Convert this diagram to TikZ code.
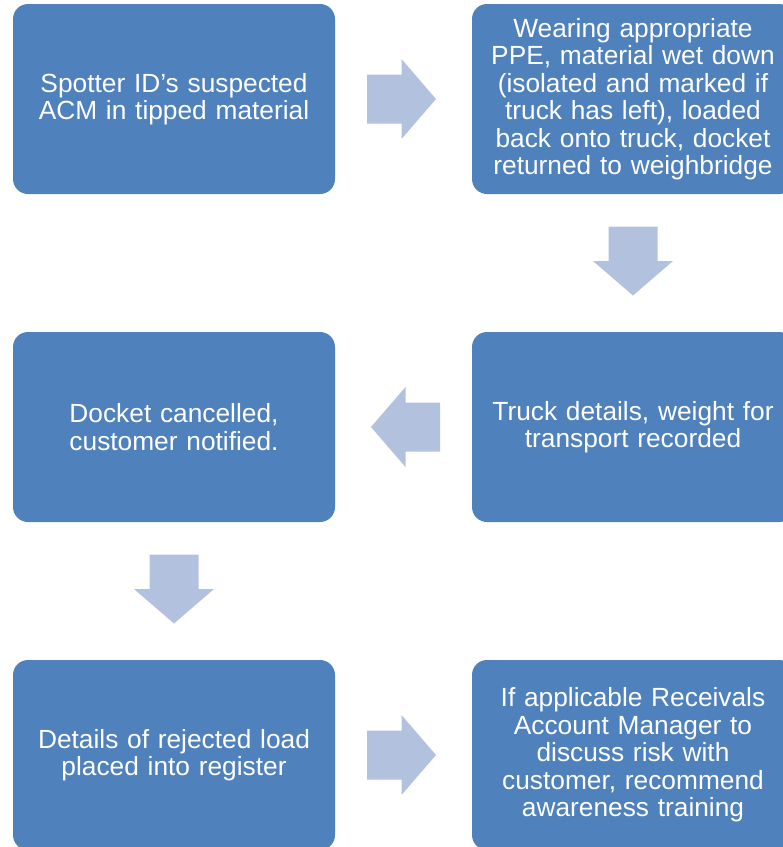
\documentclass[tikz,border=0pt]{standalone}
\usepackage{fontspec}
\setmainfont{Liberation Sans}
\usepackage{xcolor}
\usepackage{tikz}
\usetikzlibrary{positioning,calc}

\definecolor{boxblue}{HTML}{4F81BD}
\definecolor{arrowblue}{HTML}{B2C1DD}

\begin{document}
\begin{tikzpicture}[x=1pt, y=-1pt,
	step box/.style={rectangle, rounded corners=15pt, fill=boxblue, minimum width=322pt, minimum height=190pt, text width=318pt, align=center, text=white, inner sep=0pt, font=\fontsize{26.3pt}{27.5pt}\selectfont},
	fat arrow/.pic={\fill[arrowblue] (-34.5,-24.5) -- (0,-24.5) -- (0,-40) -- (34.5,0) -- (0,40) -- (0,24.5) -- (-34.5,24.5) -- cycle;}]
						\useasboundingbox (0,0) rectangle (783,847);
						\clip (0,0) rectangle (783,847);
						\node[step box] (spot) at (174,99) {Spotter ID’s suspected\\ACM in tipped material};
						\node[step box] (wet) at (633,99) {Wearing appropriate\\PPE, material wet down\\(isolated and marked if\\truck has left), loaded\\back onto truck, docket\\returned to weighbridge};
						\node[step box] (truck) at (633,427) {Truck details, weight for\\transport recorded};
						\node[step box] (docket) at (174,427) {Docket cancelled,\\customer notified.};
						\node[step box] (register) at (174,755) {Details of rejected load\\placed into register};
						\node[step box] (manager) at (633,755) {If applicable Receivals\\Account Manager to\\discuss risk with\\customer, recommend\\awareness training};
						\pic at ($(spot.east)!0.5!(wet.west)+(-2,0)$) {fat arrow};
						\pic[rotate=-90] at ($(wet.south)!0.5!(truck.north)+(0,-2)$) {fat arrow};
						\pic[rotate=180] at ($(truck.west)!0.5!(docket.east)+(2,0)$) {fat arrow};
						\pic[rotate=-90] at ($(docket.south)!0.5!(register.north)+(0,-2)$) {fat arrow};
						\pic at ($(register.east)!0.5!(manager.west)+(-2,0)$) {fat arrow};

					\end{tikzpicture}
\end{document}
